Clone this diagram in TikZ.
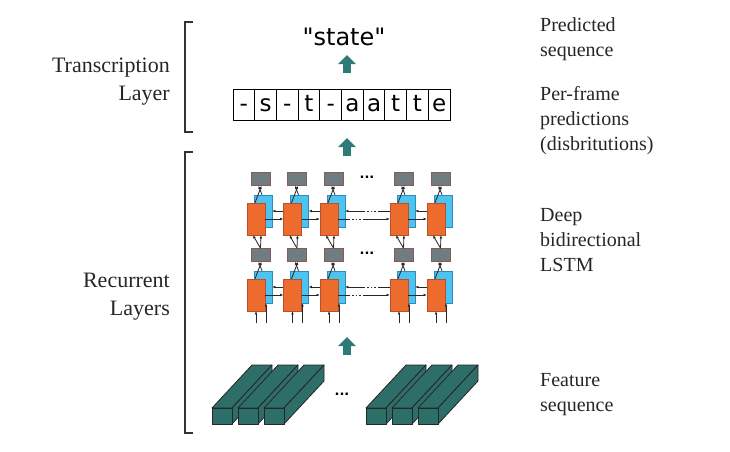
\documentclass[tikz,border=0pt]{standalone}
\usepackage{fontspec}
\setmainfont{Liberation Serif}
\newfontfamily\sansfont{DejaVu Sans}
\usetikzlibrary{arrows.meta,calc}

\definecolor{featteal}{HTML}{2E6E69}
\definecolor{arrowteal}{HTML}{2D7A78}
\definecolor{lstmorange}{HTML}{EC6B2D}
\definecolor{lstmorangeline}{HTML}{B5522A}
\definecolor{lstmblue}{HTML}{4DC3F2}
\definecolor{lstmblueline}{HTML}{2F8BB8}
\definecolor{lstmgray}{HTML}{6F7C82}
\definecolor{lstmgrayline}{HTML}{8A5A55}

\tikzset{
  orangecell/.style={draw=lstmorangeline, fill=lstmorange, line width=0.5pt, minimum width=18pt, minimum height=32pt, inner sep=0pt},
  bluecell/.style={draw=lstmblueline, fill=lstmblue, line width=0.5pt, minimum width=18pt, minimum height=32pt, inner sep=0pt},
  graycell/.style={draw=lstmgrayline, fill=lstmgray, line width=0.6pt, minimum width=19pt, minimum height=13pt, inner sep=0pt},
  cellarrow/.style={-{Latex[length=3.2pt,width=2.8pt]}, line width=0.8pt, black!85},
  gapfwd/.style={dash pattern=on 12pt off 2pt on 1.5pt off 2pt on 1.5pt off 2pt on 1.5pt off 2pt on 40pt},
  gapback/.style={dash pattern=on 19pt off 2pt on 1.5pt off 2pt on 1.5pt off 2pt on 1.5pt off 2pt on 40pt},
  letterbox/.style={draw, line width=1pt, minimum width=21.7pt, minimum height=31pt, inner sep=0pt, font=\sansfont\fontsize{23}{23}\selectfont, text height=17pt, text depth=2.6pt},
  fatarrow/.style={draw=arrowteal, line width=8pt, -{Triangle[width=17pt,length=9pt]}},
  featface/.style={draw=black!85, fill=featteal, line width=0.8pt, line join=round},
  bracketline/.style={draw=black!80, line width=1.5pt},
  leftlabel/.style={font=\fontsize{22}{28}\selectfont, align=right, inner sep=0pt, text=black!85},
  rightlabel/.style={font=\fontsize{20}{25}\selectfont, align=left, inner sep=0pt, text=black!85},
  gapdots/.style={font=\sansfont\bfseries\fontsize{13}{13}\selectfont, inner sep=0pt}
}

\begin{document}
\begin{tikzpicture}[x=1pt,y=-1pt]
  \useasboundingbox (0,0) rectangle (730,451);

  % brackets and layer names
  \draw[bracketline] (193,22) -- (185,22) -- (185,132) -- (193,132);
  \draw[bracketline] (193,152) -- (185,152) -- (185,433) -- (193,433);
  \node[leftlabel, anchor=base east] (trlabel) at (170,100) {Transcription\\Layer};
  \node[leftlabel, anchor=base east] (reclabel) at (170,315) {Recurrent\\Layers};

  % right-hand descriptions (base = last line)
  \node[rightlabel, anchor=base west] (predlab) at (540,56.7) {Predicted\\sequence};
  \node[rightlabel, anchor=base west] (framelab) at (540,150) {Per-frame\\predictions\\(disbritutions)};
  \node[rightlabel, anchor=base west] (lstmlab) at (540,271.7) {Deep\\bidirectional\\LSTM};
  \node[rightlabel, anchor=base west] (featlab) at (540,411.7) {Feature\\sequence};

  % transcription
  \node[font=\sansfont\fontsize{24}{24}\selectfont, anchor=base, inner sep=0pt] (state) at (344,45) {"state"};
  \foreach \ch [count=\k] in {-,s,-,t,-,a,a,t,t,e}{
    \node[letterbox] (c\k) at ({233+21.7*(\k-0.5)},104.5) {\ch};
  }
  \coordinate (t1) at (347,73);
  \coordinate (h1) at (347,55);
  \draw[fatarrow] (t1) -- (h1);
  \coordinate (t2) at (347,156);
  \coordinate (h2) at (347,138);
  \draw[fatarrow] (t2) -- (h2);

  % deep bidirectional LSTM, row 1 at the bottom
  \foreach \r/\oy in {1/295, 2/219}{
    \foreach \x [count=\i] in {256,292.5,329,399,436}{
      \node[bluecell] (b\r-\i) at (\x+7,\oy-8) {};
    }
    \foreach \i/\j in {1/2,2/3,4/5}{
      \draw[cellarrow] (b\r-\j.west) -- (b\r-\i.east);
    }
    \draw[cellarrow, gapback] (b\r-4.west) -- (b\r-3.east);
    \foreach \x [count=\i] in {256,292.5,329,399,436}{
      \node[orangecell] (o\r-\i) at (\x,\oy) {};
      \node[graycell] (g\r-\i) at (\x+4.5,\oy-40) {};
    }
    \foreach \i/\j in {1/2,2/3,4/5}{
      \draw[cellarrow] (o\r-\i.east) -- (o\r-\j.west);
    }
    \draw[cellarrow, gapfwd] (o\r-3.east) -- (o\r-4.west);
    \foreach \i in {1,...,5}{
      \draw[cellarrow] ([xshift=-1pt]o\r-\i.north) -- ([xshift=1pt]g\r-\i.south);
      \draw[cellarrow] ([xshift=-1pt]b\r-\i.north) -- ([xshift=-2pt]g\r-\i.south);
    }
    \node[gapdots] (dots\r) at (367,\oy-42) {...};
  }
  \foreach \i in {1,...,5}{
    \draw[cellarrow] (g1-\i.north) -- ([xshift=-3pt]o2-\i.south);
    \draw[cellarrow] (g1-\i.north) -- ([xshift=5pt]o2-\i.south);
    \coordinate (x1-\i) at ($(o1-\i.south)+(0,12)$);
    \coordinate (x2-\i) at ($(b1-\i.south)+(3,20)$);
    \draw[cellarrow] (x1-\i) -- (o1-\i.south);
    \draw[cellarrow] (x2-\i) -- ([xshift=3pt]b1-\i.south);
  }
  \coordinate (t3) at (347,355);
  \coordinate (h3) at (347,337);
  \draw[fatarrow] (t3) -- (h3);

  % feature sequence
  \foreach \fx in {212,238,264,366,392,418}{
    \draw[featface] (\fx,408) -- ++(40,-43) -- ++(20,0) -- ++(-40,43) -- cycle;
    \draw[featface] (\fx+20,408) -- ++(40,-43) -- ++(0,16) -- ++(-40,43) -- cycle;
    \draw[featface] (\fx,408) rectangle ++(20,16);
  }
  \node[gapdots] (featdots) at (342,394) {...};
\end{tikzpicture}
\end{document}
